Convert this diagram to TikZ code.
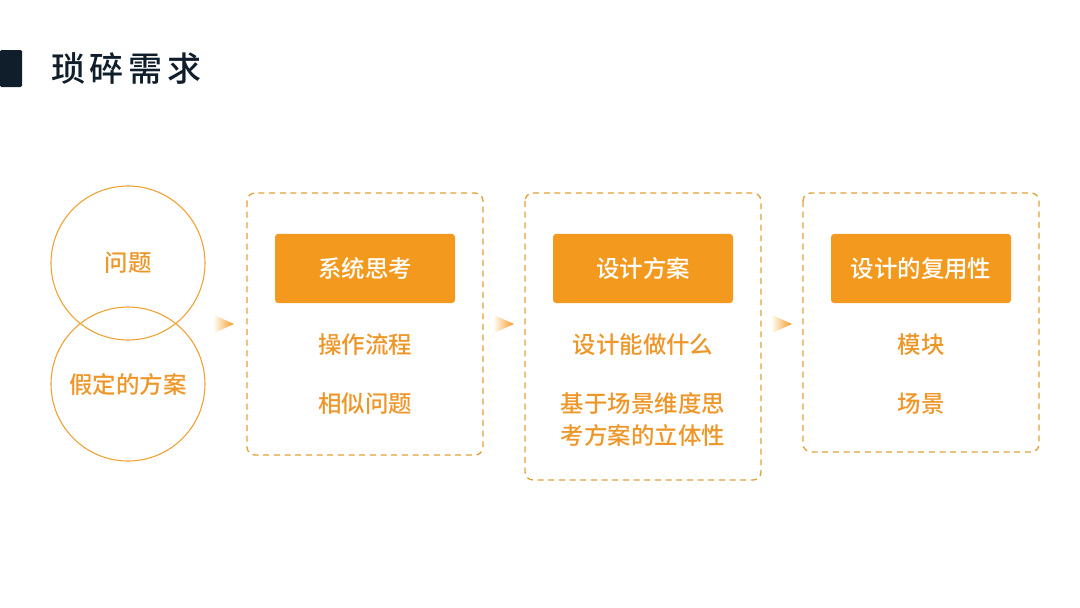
\documentclass[tikz,border=0pt]{standalone}
\usepackage{fontspec}
\setmainfont{Noto Sans CJK SC}
\newfontfamily\cjk{Noto Sans CJK SC}
\newfontfamily\cjkb{Noto Sans CJK SC Medium}
\usetikzlibrary{calc}
\definecolor{navy}{HTML}{0F1E2A}
\definecolor{orng}{HTML}{F39A1E}
\definecolor{otext}{HTML}{EE9628}
\definecolor{odash}{HTML}{E0A035}
\definecolor{ocirc}{HTML}{F0A032}
\begin{document}
\begin{tikzpicture}[x=0.75pt,y=-0.75pt,
  dbox/.style={draw=odash,line width=1pt,dash pattern=on 4.5pt off 3.5pt,rounded corners=6pt},
  hbox/.style={fill=orng,rounded corners=2.5pt,text=white,font=\cjkb\fontsize{17.6}{20}\selectfont,minimum width=135pt,minimum height=52pt,inner sep=0pt},
  itm/.style={text=otext,font=\cjkb\fontsize{17.6}{24}\selectfont,align=center,inner sep=0pt},
  circ/.style={draw=ocirc,line width=0.8pt,circle,minimum size=115.5pt,inner sep=0pt},
  tri/.style={left color=orng!5,middle color=orng!70,right color=orng,draw=none}]
\useasboundingbox (0,0) rectangle (1080,607);
% title
\fill[navy,rounded corners=1pt] (0,50) rectangle (22,87);
\node[anchor=west,text=navy,font=\cjkb\fontsize{25.5}{28}\selectfont,inner sep=0pt] (title) at (51,69) {琐\hspace{3.5pt}碎\hspace{3.5pt}需\hspace{3.5pt}求};
% circles
\node[circ] (q) at (128,263) {};
\node[circ] (p) at (128,384) {};
\node[itm] (qt) at (128,263) {问题};
\node[itm] (pt) at (128,384) {假定的方案};
% boxes
\draw[dbox] (247,193) rectangle (483,455);
\draw[dbox] (525,193) rectangle (761,480);
\draw[dbox] (803,193) rectangle (1039,452);
% headers
\node[hbox] (h1) at (365,268.5) {系统思考};
\node[hbox] (h2) at (643,268.5) {设计方案};
\node[hbox] (h3) at (921,268.5) {设计的复用性};
% items
\node[itm] (a1) at (365,345) {操作流程};
\node[itm] (a2) at (365,404) {相似问题};
\node[itm] (b1i) at (643,345) {设计能做什么};
\node[itm] (b2i) at (643,420) {基于场景维度思\\考方案的立体性};
\node[itm] (c1) at (921,345) {模块};
\node[itm] (c2) at (921,404) {场景};
% arrows
\foreach \x in {214,494,772}{
  \shade[tri] (\x,315) -- (\x+20,324) -- (\x,333) -- cycle;
}
\end{tikzpicture}
\end{document}
